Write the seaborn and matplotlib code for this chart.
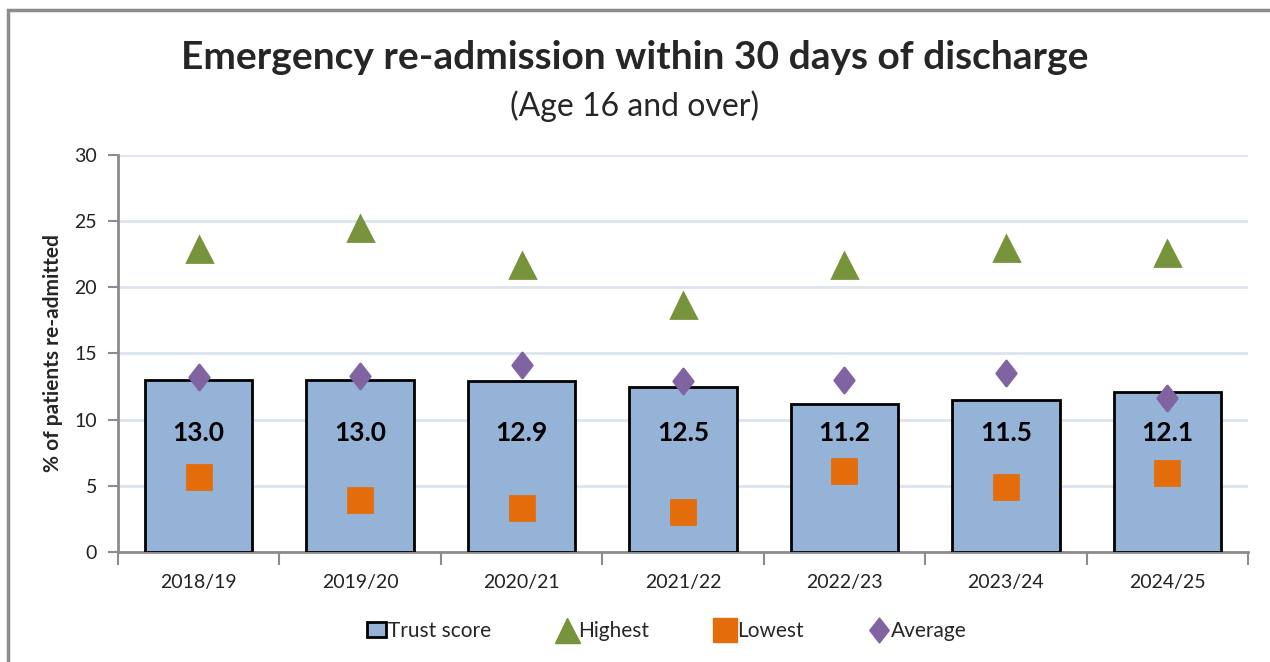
import numpy as np
import pandas as pd
import matplotlib
matplotlib.use("Agg")
import matplotlib.pyplot as plt
from matplotlib.patches import Rectangle
from matplotlib.lines import Line2D
from matplotlib.path import Path
import seaborn as sns

# values
years = ["2018/19", "2019/20", "2020/21", "2021/22", "2022/23", "2023/24", "2024/25"]
trust_score = [13.0, 13.0, 12.9, 12.5, 11.2, 11.5, 12.1]
highest = [22.9, 24.5, 21.7, 18.7, 21.7, 23.0, 22.6]
lowest = [5.7, 3.9, 3.3, 3.0, 6.1, 4.9, 6.0]
average = [13.2, 13.3, 14.1, 12.9, 13.0, 13.5, 11.6]

df = pd.DataFrame({"year": years, "trust": trust_score, "high": highest,
                   "low": lowest, "avg": average})

sns.set_style("white")
plt.rcParams["font.family"] = ["Lato", "DejaVu Sans"]

bar_col = "#95B3D7"
green = "#77933C"
orange = "#E46C0A"
purple = "#8064A2"
grid_col = "#DCE4F0"
axis_col = "#8C8C8C"

diamond = Path([(0, 1), (0.78, 0), (0, -1), (-0.78, 0), (0, 1)],
               [Path.MOVETO, Path.LINETO, Path.LINETO, Path.LINETO, Path.CLOSEPOLY])

fig = plt.figure(figsize=(12.7, 6.62), dpi=100)
ax = fig.add_axes([0.0929, 0.1662, 0.8898, 0.5997])

sns.barplot(data=df, x="year", y="trust", color=bar_col, width=0.665,
            edgecolor="black", linewidth=2, saturation=1, ax=ax, zorder=3)

mk = dict(linestyle="none", zorder=4, markeredgewidth=2, solid_joinstyle="round")
x = np.arange(len(years))
ax.plot(x, df["high"], marker="^", markersize=18, color=green, markeredgecolor=green, **mk)
ax.plot(x, df["low"], marker="s", markersize=17, color=orange, markeredgecolor=orange, **mk)
ax.plot(x, df["avg"], marker=diamond, markersize=18, color=purple, markeredgecolor=purple, **mk)

for i, v in enumerate(trust_score):
    ax.text(i, 9.0, f"{v:.1f}", ha="center", va="center", fontsize=19,
            fontweight="bold", color="black", zorder=5)

ax.set_ylim(0, 30)
ax.set_xlim(-0.5, len(years) - 0.5)
ax.set_yticks(range(0, 31, 5))
ax.yaxis.grid(True, color=grid_col, linewidth=2)
ax.set_axisbelow(True)
ax.set_xlabel("")
ax.set_ylabel("% of patients re-admitted", fontsize=15, fontweight="bold", labelpad=8)

for s in ["top", "right"]:
    ax.spines[s].set_visible(False)
for s in ["left", "bottom"]:
    ax.spines[s].set_color(axis_col)
    ax.spines[s].set_linewidth(2)

ax.tick_params(axis="y", length=7, width=1.5, color=axis_col, labelsize=14, pad=8,
               labelcolor="#222222", left=True)
ax.set_xticks(x)
ax.set_xticklabels(years)
ax.tick_params(axis="x", which="major", length=0, labelsize=14, pad=16, labelcolor="#222222")
ax.set_xticks(np.arange(-0.5, len(years), 1), minor=True)
ax.tick_params(axis="x", which="minor", length=9, width=1.5, color=axis_col, bottom=True)

fig.text(0.5, 0.913, "Emergency re-admission within 30 days of discharge",
         ha="center", va="center", fontsize=28, fontweight="bold")
fig.text(0.5, 0.84, "(Age 16 and over)", ha="center", va="center", fontsize=23)

handles = [
    Rectangle((0, 0), 1, 1, facecolor=bar_col, edgecolor="black", linewidth=2),
    Line2D([], [], marker="^", markersize=18, color=green, linestyle="none"),
    Line2D([], [], marker="s", markersize=17, color=orange, linestyle="none"),
    Line2D([], [], marker=diamond, markersize=18, color=purple, linestyle="none"),
]
fig.legend(handles, ["Trust score", "Highest", "Lowest", "Average"], loc="center",
           bbox_to_anchor=(0.525, 0.047), ncol=4, frameon=False, fontsize=15,
           handlelength=0.9, handletextpad=0.1, columnspacing=3.2)

# outer chart frame (left and top edges visible)
fig.patches.append(Rectangle((8 / 1270, -0.2), 1.5, 1.2 - 10 / 662,
                             transform=fig.transFigure, fill=False,
                             edgecolor="#8C8C8C", linewidth=2.5))

fig.savefig("out.png", dpi=100)
